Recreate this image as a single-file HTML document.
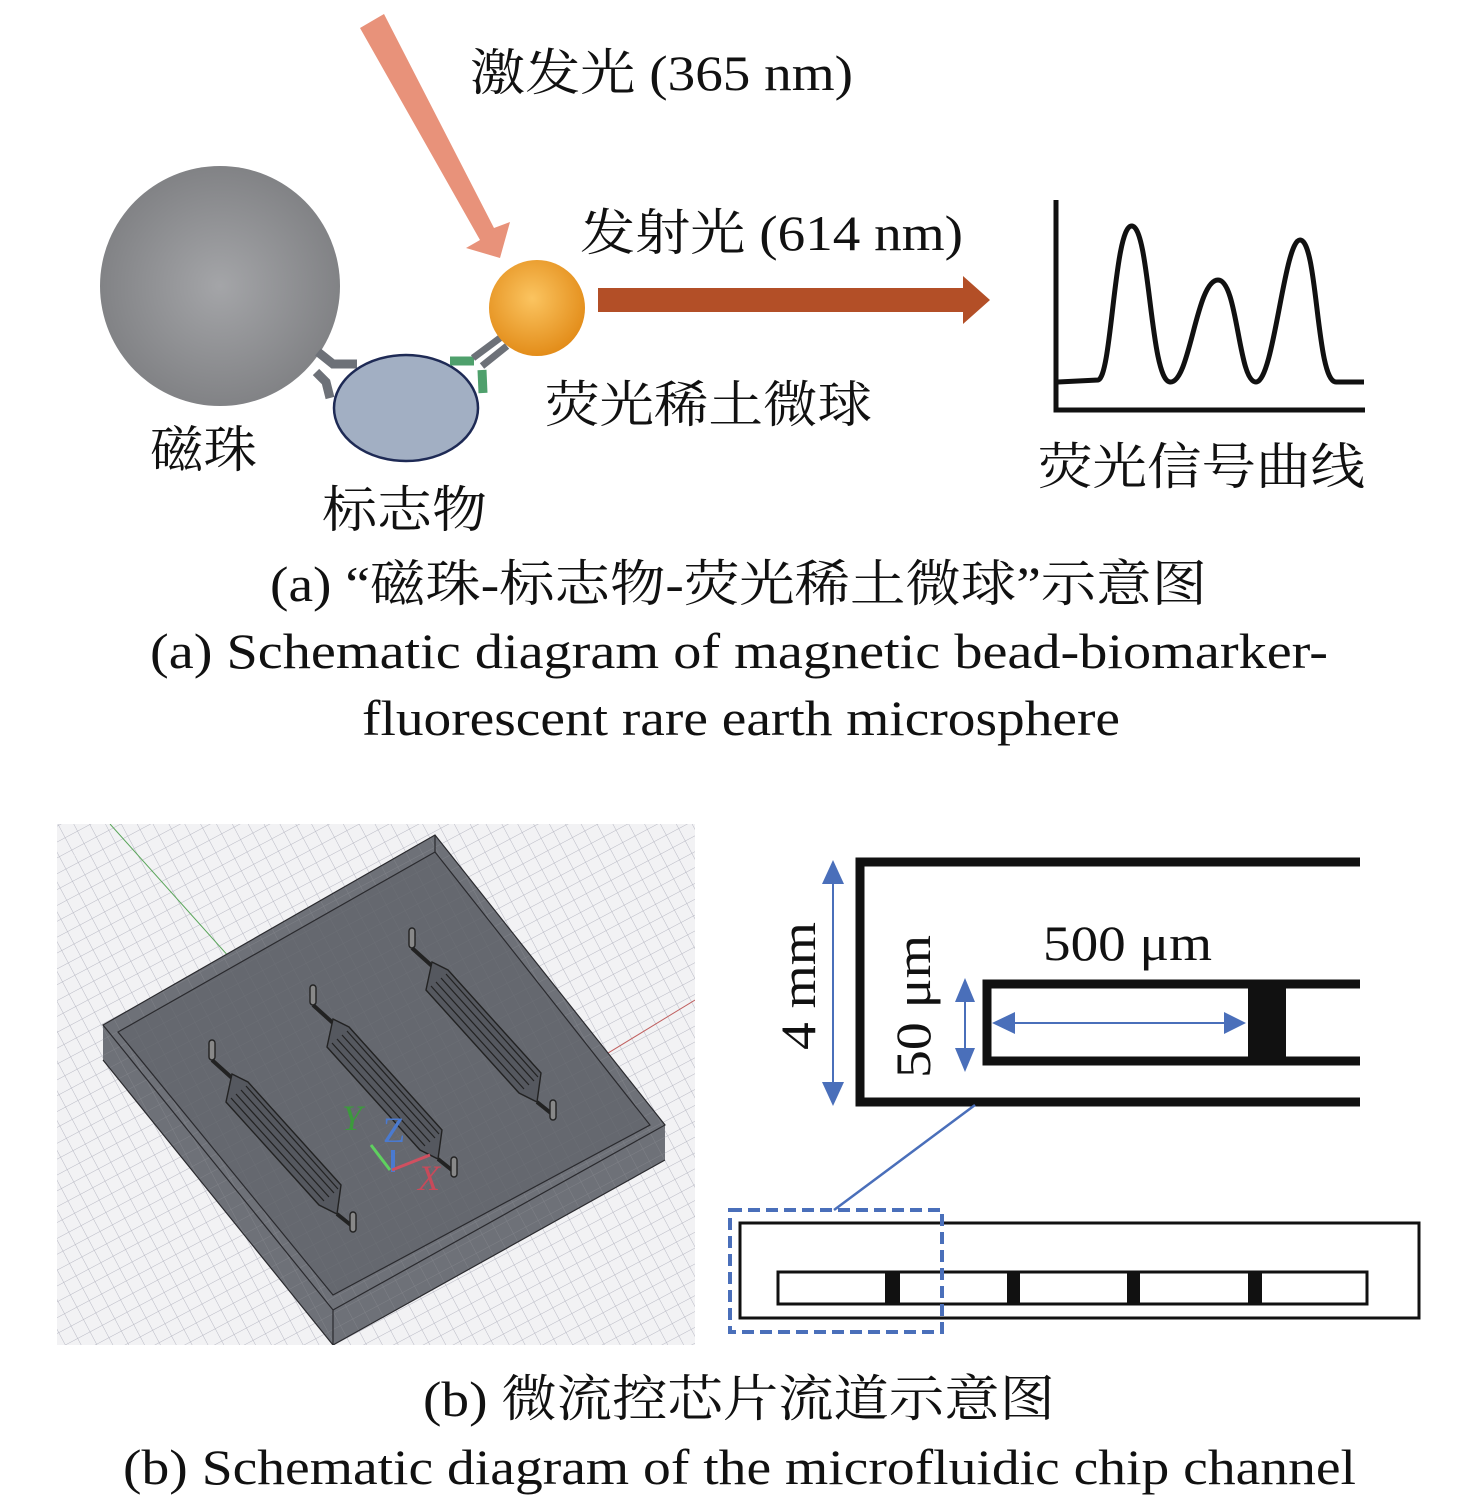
<!DOCTYPE html>
<html><head><meta charset="utf-8"><style>
html,body{margin:0;padding:0;background:#fff;width:1476px;height:1500px;overflow:hidden}
svg{display:block}
text{font-family:"Liberation Serif","Noto Serif CJK SC",serif;fill:#111}
</style></head><body>
<svg width="1476" height="1500" viewBox="0 0 1476 1500" xmlns="http://www.w3.org/2000/svg">
<defs>
<radialGradient id="gs" cx="0.5" cy="0.5" r="0.55"><stop offset="0" stop-color="#a4a5a8"/><stop offset="1" stop-color="#7e7f82"/></radialGradient>
<radialGradient id="os" cx="0.45" cy="0.4" r="0.6"><stop offset="0" stop-color="#fbc460"/><stop offset="1" stop-color="#e38d1a"/></radialGradient>
<pattern id="grid" width="14" height="14" patternUnits="userSpaceOnUse" patternTransform="rotate(-28)">
<rect width="14" height="14" fill="#f2f2f4"/><path d="M0 0H14M0 0V14" stroke="#b8b9c4" stroke-width="1" fill="none"/></pattern>
<pattern id="grid2" width="14" height="14" patternUnits="userSpaceOnUse" patternTransform="rotate(-28)">
<path d="M0 0H14M0 0V14" stroke="#8a8c92" stroke-width="1" fill="none"/></pattern>
<clipPath id="cp"><rect x="57" y="824" width="638" height="521"/></clipPath>
<g id="ch" stroke="#222" stroke-width="1.4">
<rect x="209" y="1040" width="6" height="20" rx="3" fill="#888"/>
<path d="M212 1060 L232 1078" fill="none" stroke-width="4"/>
<polygon points="232,1074 248,1082 341,1185 337,1214 319,1205 226,1102" fill="#55585f"/>
<path d="M231 1098 L324 1201 M236 1094 L329 1197 M241 1090 L334 1193 M246 1086 L338 1189" fill="none" stroke-width="1.2"/>
<path d="M337 1214 L352 1226" fill="none" stroke-width="4"/>
<rect x="350" y="1212" width="6" height="20" rx="3" fill="#888"/>
</g>
</defs>

<!-- Part (a) -->
<polygon points="360,28 384,14 494,228 510,222 500,258 466,248 480,240" fill="#e8927a"/>
<circle cx="220" cy="286" r="120" fill="url(#gs)"/>
<path d="M318 352 L333 364 L357 364" stroke="#6d7178" stroke-width="9" fill="none"/>
<path d="M316 372 L326 382 L330 398" stroke="#6d7178" stroke-width="9" fill="none"/>
<ellipse cx="406" cy="408" rx="72" ry="53" fill="#a2afc3" stroke="#1e2a55" stroke-width="2.5"/>
<path d="M450 361 L474 361" stroke="#4fa06c" stroke-width="9"/>
<path d="M482 370 L483 393" stroke="#4fa06c" stroke-width="9"/>
<path d="M473 358 L500 338 M482 366 L507 346" stroke="#6d7178" stroke-width="7"/>
<circle cx="537" cy="308" r="48" fill="url(#os)"/>
<polygon points="598,288 963,288 963,276 990,300 963,324 963,312 598,312" fill="#b34f27"/>
<text x="470" y="90" font-size="50" textLength="383" lengthAdjust="spacingAndGlyphs">激发光 (365 nm)</text>
<text x="580" y="250" font-size="50" textLength="383" lengthAdjust="spacingAndGlyphs">发射光 (614 nm)</text>
<text x="545" y="422" font-size="50" textLength="327" lengthAdjust="spacingAndGlyphs">荧光稀土微球</text>
<text x="150" y="467" font-size="50" textLength="107" lengthAdjust="spacingAndGlyphs">磁珠</text>
<text x="322" y="527" font-size="50" textLength="165" lengthAdjust="spacingAndGlyphs">标志物</text>
<path d="M1056 200 V410 H1365" stroke="#111" stroke-width="5" fill="none"/>
<path d="M1058 382 L1098 380 C1112 378 1114 224 1132 226 C1150 228 1150 380 1170 382 C1190 384 1196 280 1218 280 C1238 280 1238 382 1256 382 C1274 382 1284 240 1300 240 C1318 240 1316 382 1336 382 L1364 382" stroke="#111" stroke-width="5" fill="none"/>
<text x="1038" y="484" font-size="50" textLength="327" lengthAdjust="spacingAndGlyphs">荧光信号曲线</text>

<text x="270" y="601" font-size="50" textLength="937" lengthAdjust="spacingAndGlyphs">(a) “磁珠-标志物-荧光稀土微球”示意图</text>
<text x="150" y="668" font-size="50" textLength="1178" lengthAdjust="spacingAndGlyphs">(a) Schematic diagram of  magnetic bead-biomarker-</text>
<text x="362" y="735" font-size="50" textLength="758" lengthAdjust="spacingAndGlyphs">fluorescent rare earth microsphere</text>

<!-- 3D chip -->
<g clip-path="url(#cp)">
<rect x="57" y="824" width="638" height="521" fill="url(#grid)"/>
<line x1="110" y1="824" x2="420" y2="1170" stroke="#5aa55a" stroke-width="1"/>
<line x1="400" y1="1180" x2="695" y2="1000" stroke="#c06060" stroke-width="1"/>
<polygon points="103,1025 435,835 665,1125 665,1160 333,1345 103,1060" fill="#6e7178"/>
<polygon points="103,1025 435,835 665,1125 665,1160 333,1345 103,1060" fill="url(#grid2)" opacity="0.6"/>
<polygon points="103,1025 435,835 665,1125 333,1310" fill="none" stroke="#2a2a2e" stroke-width="1.2"/>
<polygon points="118,1032 435,852 650,1125 333,1295" fill="#5f6269" fill-opacity="0.6" stroke="#2a2a2e" stroke-width="1.2"/>
<path d="M333 1310 V1345 M103 1060 L333 1345 L665 1160 M435 835 V852" stroke="#2a2a2e" fill="none" stroke-width="1.2"/>
<use href="#ch"/>
<use href="#ch" transform="translate(101,-55)"/>
<use href="#ch" transform="translate(200,-112)"/>
<text x="342" y="1130" font-size="36" style="fill:#3c9a3c;font-style:italic">Y</text>
<text x="383" y="1142" font-size="36" style="fill:#4a7ad0">Z</text>
<text x="418" y="1190" font-size="36" style="fill:#c84a5a;font-style:italic">X</text>
<path d="M371 1145 L390 1170" stroke="#5fd05f" stroke-width="3"/>
<path d="M393 1150 V1172" stroke="#4a7ad0" stroke-width="4"/>
<path d="M392 1170 L430 1155" stroke="#d05060" stroke-width="3"/>
</g>

<!-- right detail -->
<path d="M1360 862 H860 V1102 H1360" stroke="#111" stroke-width="9" fill="none"/>
<path d="M1360 984 H987 V1061 H1360" stroke="#111" stroke-width="9" fill="none"/>
<rect x="1248" y="984" width="38" height="77" fill="#111"/>
<g fill="#4a6fba" stroke="#4a6fba">
<line x1="833" y1="870" x2="833" y2="1100" stroke-width="2"/>
<polygon points="822,884 833,860 844,884" stroke="none"/><polygon points="822,1082 833,1106 844,1082" stroke="none"/>
<line x1="965" y1="985" x2="965" y2="1065" stroke-width="2"/>
<polygon points="955,1002 965,978 975,1002" stroke="none"/><polygon points="955,1048 965,1072 975,1048" stroke="none"/>
<line x1="1000" y1="1023" x2="1240" y2="1023" stroke-width="2"/>
<polygon points="1015,1012 992,1023 1015,1034" stroke="none"/><polygon points="1224,1012 1246,1023 1224,1034" stroke="none"/>
</g>
<text x="1043" y="960" font-size="50" textLength="169" lengthAdjust="spacingAndGlyphs">500 μm</text>
<text transform="translate(815,1050) rotate(-90)" font-size="50" textLength="128" lengthAdjust="spacingAndGlyphs">4 mm</text>
<text transform="translate(930,1078) rotate(-90)" font-size="50" textLength="143" lengthAdjust="spacingAndGlyphs">50 μm</text>
<line x1="975" y1="1105" x2="834" y2="1210" stroke="#4a6fba" stroke-width="2.5"/>
<rect x="740" y="1223" width="679" height="95" fill="none" stroke="#111" stroke-width="3"/>
<rect x="778" y="1272" width="589" height="32" fill="none" stroke="#111" stroke-width="3"/>
<rect x="885" y="1272" width="15" height="32" fill="#111"/>
<rect x="1007" y="1272" width="13" height="32" fill="#111"/>
<rect x="1127" y="1272" width="13" height="32" fill="#111"/>
<rect x="1248" y="1272" width="14" height="32" fill="#111"/>
<rect x="730" y="1210" width="212" height="122" fill="none" stroke="#4a6fba" stroke-width="4" stroke-dasharray="12,6"/>

<text x="423" y="1416" font-size="50" textLength="632" lengthAdjust="spacingAndGlyphs">(b) 微流控芯片流道示意图</text>
<text x="123" y="1484" font-size="50" textLength="1233" lengthAdjust="spacingAndGlyphs">(b) Schematic diagram of the microfluidic chip channel</text>
</svg>
</body></html>
